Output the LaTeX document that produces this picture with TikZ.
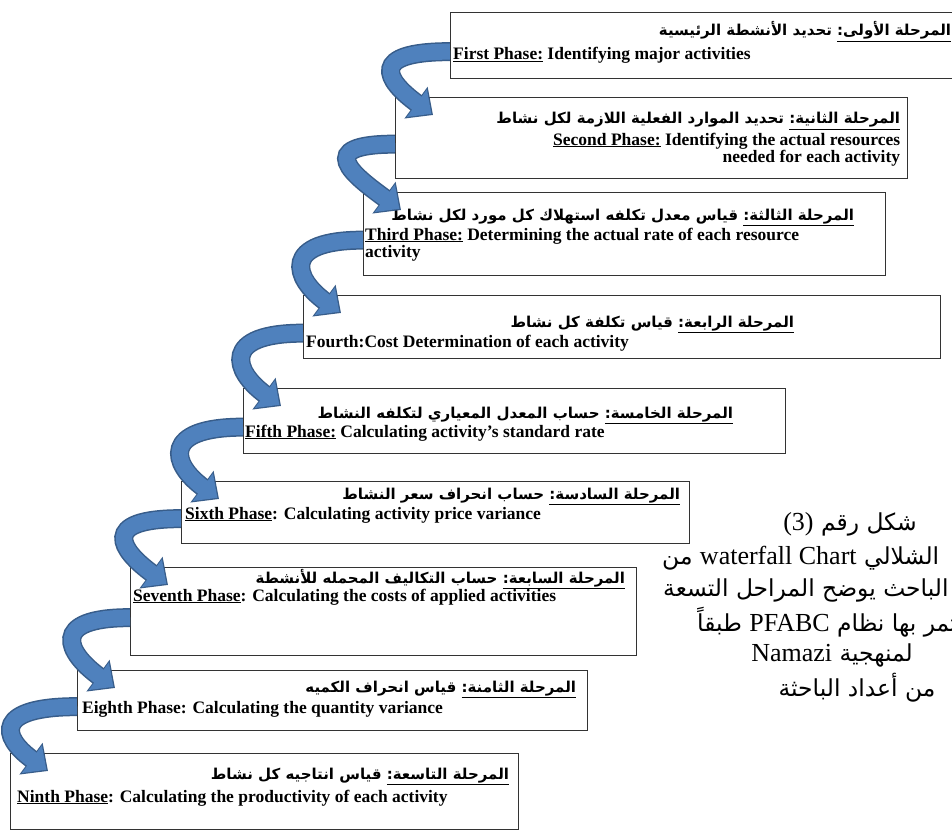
\documentclass[tikz,border=0pt]{standalone}
\usepackage{fontspec}
\setmainfont{Liberation Serif}
\newfontfamily\arabicfont[Script=Arabic]{DejaVu Sans}
\newfontfamily\caparabic[Script=Arabic,Scale=0.9]{DejaVu Sans}
\TeXXeTstate=1
\usetikzlibrary{arrows.meta}
\definecolor{arrowblue}{RGB}{79,129,189}
\definecolor{arrowedge}{RGB}{56,93,138}

\begin{document}
\begin{tikzpicture}[x=1pt,y=-1pt,
  phase/.style={draw=black!80,line width=1.3pt,fill=white,anchor=north west,inner sep=0pt},
  artxt/.style={font=\arabicfont\bfseries\fontsize{15}{17}\selectfont,inner sep=0pt,anchor=base east},
  entxt/.style={font=\bfseries\fontsize{17.5}{19}\selectfont,inner sep=0pt,anchor=base west},
  captxt/.style={font=\fontsize{26}{30}\selectfont,inner sep=0pt},
  bendout/.style={arrowedge,line width=19pt,-{Triangle[width=38pt,length=21pt]}},
  bendin/.style={arrowblue,line width=16pt,shorten >=2pt,-{Triangle[width=33pt,length=18pt]}}]
\path[use as bounding box] (0,0) rectangle (952,832);
\clip (0,0) rectangle (952,832);

% phase boxes
\node[phase,minimum width=510pt,minimum height=66pt] (p1) at (450,12) {};
\node[phase,minimum width=512pt,minimum height=81pt] (p2) at (395,97) {};
\node[phase,minimum width=522pt,minimum height=83pt] (p3) at (363,192) {};
\node[phase,minimum width=637pt,minimum height=63pt] (p4) at (303,295) {};
\node[phase,minimum width=542pt,minimum height=65pt] (p5) at (243,388) {};
\node[phase,minimum width=508pt,minimum height=62pt] (p6) at (181,481) {};
\node[phase,minimum width=506pt,minimum height=88pt] (p7) at (130,567) {};
\node[phase,minimum width=510pt,minimum height=60pt] (p8) at (77,670) {};
\node[phase,minimum width=508pt,minimum height=76pt] (p9) at (10,753) {};

% arabic titles
\node[artxt] (a1) at ([xshift=-10pt,yshift=-24pt]p1.north east) {\beginR\underline{\beginR المرحلة الأولى\kern0pt:\endR} تحديد الأنشطة الرئيسية\endR};
\node[artxt] (a2) at ([xshift=-8pt,yshift=-27pt]p2.north east) {\beginR\underline{\beginR المرحلة الثانية\kern0pt:\endR} تحديد الموارد الفعلية اللازمة لكل نشاط\endR};
\node[artxt] (a3) at ([xshift=-32pt,yshift=-28pt]p3.north east) {\beginR\underline{\beginR المرحلة الثالثة\kern0pt:\endR} قياس معدل تكلفه استهلاك كل مورد لكل نشاط\endR};
\node[artxt] (a4) at ([xshift=-147pt,yshift=-32pt]p4.north east) {\beginR\underline{\beginR المرحلة الرابعة\kern0pt:\endR} قياس تكلفة كل نشاط\endR};
\node[artxt] (a5) at ([xshift=-53pt,yshift=-30pt]p5.north east) {\beginR\underline{\beginR المرحلة الخامسة\kern0pt:\endR} حساب المعدل المعياري لتكلفه النشاط\endR};
\node[artxt] (a6) at ([xshift=-10pt,yshift=-18pt]p6.north east) {\beginR\underline{\beginR المرحلة السادسة\kern0pt:\endR} حساب انحراف سعر النشاط\endR};
\node[artxt] (a7) at ([xshift=-12pt,yshift=-16pt]p7.north east) {\beginR\underline{\beginR المرحلة السابعة\kern0pt:\endR} حساب التكاليف المحمله للأنشطة\endR};
\node[artxt] (a8) at ([xshift=-12pt,yshift=-22pt]p8.north east) {\beginR\underline{\beginR المرحلة الثامنة\kern0pt:\endR} قياس انحراف الكميه\endR};
\node[artxt] (a9) at ([xshift=-10pt,yshift=-26pt]p9.north east) {\beginR\underline{\beginR المرحلة التاسعة\kern0pt:\endR} قياس انتاجيه كل نشاط\endR};

% english lines
\node[entxt] (e1) at ([xshift=3pt,yshift=-48pt]p1.north west) {\underline{First Phase:} Identifying major activities};
\node[entxt,anchor=base east] (e2) at ([xshift=-8pt,yshift=-48pt]p2.north east) {\underline{Second Phase:} Identifying the actual resources};
\node[entxt,anchor=base east] (e2b) at ([xshift=-8pt,yshift=-65pt]p2.north east) {needed for each activity};
\node[entxt] (e3) at ([xshift=2pt,yshift=-48pt]p3.north west) {\underline{Third Phase:} Determining the actual rate of each resource};
\node[entxt] (e3b) at ([xshift=2pt,yshift=-65pt]p3.north west) {activity};
\node[entxt] (e4) at ([xshift=3pt,yshift=-52pt]p4.north west) {Fourth:Cost Determination of each activity};
\node[entxt] (e5) at ([xshift=2pt,yshift=-49pt]p5.north west) {\underline{Fifth Phase:} Calculating activity\char"27 s standard rate};
\node[entxt] (e6) at ([xshift=4pt,yshift=-38pt]p6.north west) {\underline{Sixth Phase}: Calculating activity price variance};
\node[entxt] (e7) at ([xshift=3pt,yshift=-34pt]p7.north west) {\underline{Seventh Phase}: Calculating the costs of applied activities};
\node[entxt] (e8) at ([xshift=5pt,yshift=-43pt]p8.north west) {Eighth Phase: Calculating the quantity variance};
\node[entxt] (e9) at ([xshift=7pt,yshift=-49pt]p9.north west) {\underline{Ninth Phase}: Calculating the productivity of each activity};

% caption
\node[captxt] (c1) at (850,524) {\caparabic\beginR شكل رقم {\rmfamily\beginL(3)\endL}\endR};
\node[captxt,anchor=west] (c2) at (662,558) {\caparabic\beginR الشلالي {\rmfamily\beginL waterfall Chart\endL} من\endR};
\node[captxt,anchor=west] (c3) at (663,590) {\caparabic\beginR الباحث يوضح المراحل التسعة\endR};
\node[captxt,anchor=west] (c4) at (697,622) {\caparabic\beginR تمر بها نظام {\rmfamily\beginL PFABC\endL} طبقاً\endR};
\node[captxt] (c5) at (832,655) {\caparabic\beginR لمنهجية {\rmfamily\beginL Namazi\endL}\endR};
\node[captxt] (c6) at (857,688) {\caparabic\beginR من أعداد الباحثة\endR};

% curved arrows
\foreach \a/\b in {p1/p2,p2/p3,p3/p4,p4/p5,p5/p6,p6/p7,p7/p8,p8/p9}{
  \draw[bendout] ([yshift=-6pt]\a.west) .. controls +(-82,0) and +(-48,-35) .. ([xshift=38pt,yshift=-18pt]\b.north west);
  \draw[bendin] ([yshift=-6pt]\a.west) .. controls +(-82,0) and +(-48,-35) .. ([xshift=38pt,yshift=-18pt]\b.north west);
}
\end{tikzpicture}
\end{document}
